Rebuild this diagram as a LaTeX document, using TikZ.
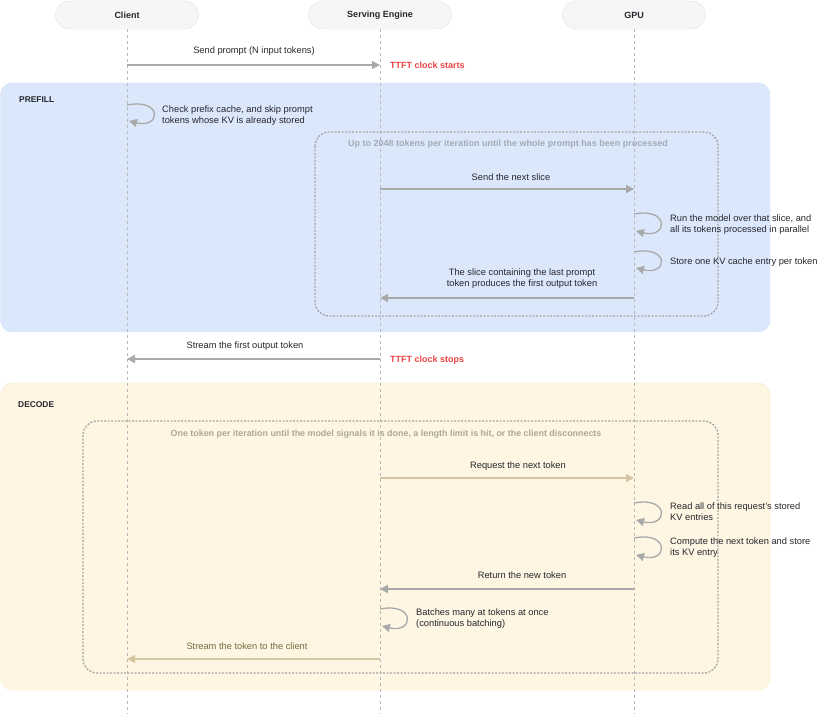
\documentclass[tikz,border=0pt]{standalone}
\usepackage{fontspec}
\setmainfont{Liberation Sans}
\usetikzlibrary{arrows.meta}
\definecolor{txt}{HTML}{26262E}
\definecolor{headfill}{HTML}{F6F6F6}
\definecolor{headborder}{HTML}{E2E2E2}
\definecolor{lifegray}{HTML}{B8B8B8}
\definecolor{arrgray}{HTML}{A9A9A9}
\definecolor{tanarr}{HTML}{D5C5A2}
\definecolor{tantxt}{HTML}{7A6A40}
\definecolor{clockred}{HTML}{EF4444}
\definecolor{prefillfill}{HTML}{DBE8FC}
\definecolor{prefillborder}{HTML}{CDDCF6}
\definecolor{decodefill}{HTML}{FEF6E2}
\definecolor{decodeborder}{HTML}{F4EACD}
\definecolor{dashgray}{HTML}{A6A6A6}
\definecolor{boxtxtblue}{HTML}{A3AAB5}
\definecolor{boxtxttan}{HTML}{ADA797}
\begin{document}
\begin{tikzpicture}[x=1pt,y=-1pt,
  head/.style={draw=headborder, fill=headfill, rounded corners=14pt, minimum width=143pt, minimum height=28pt, font=\fontsize{9}{11}\selectfont\bfseries, text=txt},
  life/.style={draw=lifegray, line width=0.8pt, dash pattern=on 3pt off 3pt},
  msg/.style={draw=arrgray, line width=1.5pt, -{Triangle[length=8pt,width=8pt]}},
  selfmsg/.style={msg, line width=1.3pt},
  tanmsg/.style={msg, draw=tanarr},
  lbl/.style={font=\fontsize{9.3}{11}\selectfont, text=txt, inner sep=0pt},
  note/.style={lbl, anchor=west, align=left},
  phase/.style={font=\fontsize{8.4}{10}\selectfont\bfseries, text=txt, anchor=west, inner sep=0pt},
  clocklbl/.style={font=\fontsize{9}{11}\selectfont\bfseries, text=clockred, anchor=west, inner sep=0pt},
  loopbox/.style={draw=dashgray, line width=1.3pt, dash pattern=on 2pt off 1.5pt, rounded corners=14pt},
  boxlbl/.style={font=\fontsize{9}{11}\selectfont\bfseries, inner sep=0pt}
]
\useasboundingbox (0,0) rectangle (820,714);

% phase regions
\draw[draw=prefillborder, fill=prefillfill, rounded corners=12pt] (0.5,83) rectangle (770,332);
\draw[draw=decodeborder, fill=decodefill, rounded corners=12pt] (0.5,383) rectangle (770,690);
\node[phase] (prefill) at (19,100) {PREFILL};
\node[phase] (decode) at (18,405) {DECODE};

% headers
\node[head] (client) at (127,15) {Client};
\node[head] (engine) at (380,15) {Serving Engine};
\node[head] (gpu) at (634,15) {GPU};

% lifelines
\coordinate (clientEnd) at (127,714);
\coordinate (engineEnd) at (380,714);
\coordinate (gpuEnd) at (634,714);
\draw[life] (client.south) -- (clientEnd);
\draw[life] (engine.south) -- (engineEnd);
\draw[life] (gpu.south) -- (gpuEnd);

% loop boxes
\draw[loopbox] (315,132) rectangle (718,316);
\node[boxlbl, text=boxtxtblue] (prefillloop) at (508,144) {Up to 2048 tokens per iteration until the whole prompt has been processed};
\draw[loopbox] (83,421) rectangle (718,673);
\node[boxlbl, font=\fontsize{8.9}{11}\selectfont\bfseries, text=boxtxttan] (decodeloop) at (386,434) {One token per iteration until the model signals it is done, a length limit is hit, or the client disconnects};

% coordinates on lifelines
\coordinate (c65) at (127,65);  \coordinate (e65) at (380,65);
\coordinate (c105) at (127,105); \coordinate (c121) at (129,121);
\coordinate (e189) at (380,189); \coordinate (g189) at (634,189);
\coordinate (g214) at (634,214); \coordinate (g231) at (636,231);
\coordinate (g252) at (634,252); \coordinate (g268) at (636,268);
\coordinate (g298) at (634,298); \coordinate (e298) at (380,298);
\coordinate (e359) at (380,359); \coordinate (c359) at (127,359);
\coordinate (e478) at (380,478); \coordinate (g478) at (634,478);
\coordinate (g503) at (634,503); \coordinate (g520) at (636,520);
\coordinate (g538) at (634,538); \coordinate (g555) at (636,555);
\coordinate (g589) at (634,589); \coordinate (e589) at (380,589);
\coordinate (e609) at (380,609); \coordinate (e626) at (382,626);
\coordinate (e659) at (380,659); \coordinate (c659) at (127,659);

% messages
\node[lbl] (m1) at (254,51) {Send prompt (N input tokens)};
\draw[msg] (c65) -- (e65);
\node[clocklbl] (tstart) at (390,65) {TTFT clock starts};

\draw[selfmsg] (c105) .. controls +(36,-7) and +(32,8) .. (c121);
\node[note] (n1) at (162,115.5) {Check prefix cache, and skip prompt\\tokens whose KV is already stored};

\node[lbl] (m2) at (511,177) {Send the next slice};
\draw[msg] (e189) -- (g189);

\draw[selfmsg] (g214) .. controls +(36,-7) and +(32,8) .. (g231);
\node[note] (n2) at (670,225) {Run the model over that slice, and\\all its tokens processed in parallel};
\draw[selfmsg] (g252) .. controls +(36,-7) and +(32,8) .. (g268);
\node[note] (n3) at (670,262) {Store one KV cache entry per token};

\node[lbl, align=center] (m3) at (522,278.5) {The slice containing the last prompt\\token produces the first output token};
\draw[msg] (g298) -- (e298);

\node[lbl] (m4) at (245,346) {Stream the first output token};
\draw[msg] (e359) -- (c359);
\node[clocklbl] (tstop) at (390,360) {TTFT clock stops};

\node[lbl] (m5) at (518,466) {Request the next token};
\draw[tanmsg] (e478) -- (g478);

\draw[selfmsg] (g503) .. controls +(36,-7) and +(32,8) .. (g520);
\node[note] (n4) at (670,511.5) {Read all of this request's stored\\KV entries};
\draw[selfmsg] (g538) .. controls +(36,-7) and +(32,8) .. (g555);
\node[note] (n5) at (670,547.5) {Compute the next token and store\\its KV entry};

\node[lbl] (m6) at (522,575) {Return the new token};
\draw[msg] (g589) -- (e589);

\draw[selfmsg] (e609) .. controls +(36,-7) and +(32,8) .. (e626);
\node[note] (n6) at (416,618.5) {Batches many at tokens at once\\(continuous batching)};

\node[lbl, text=tantxt] (m7) at (247,646) {Stream the token to the client};
\draw[tanmsg] (e659) -- (c659);
\end{tikzpicture}
\end{document}
